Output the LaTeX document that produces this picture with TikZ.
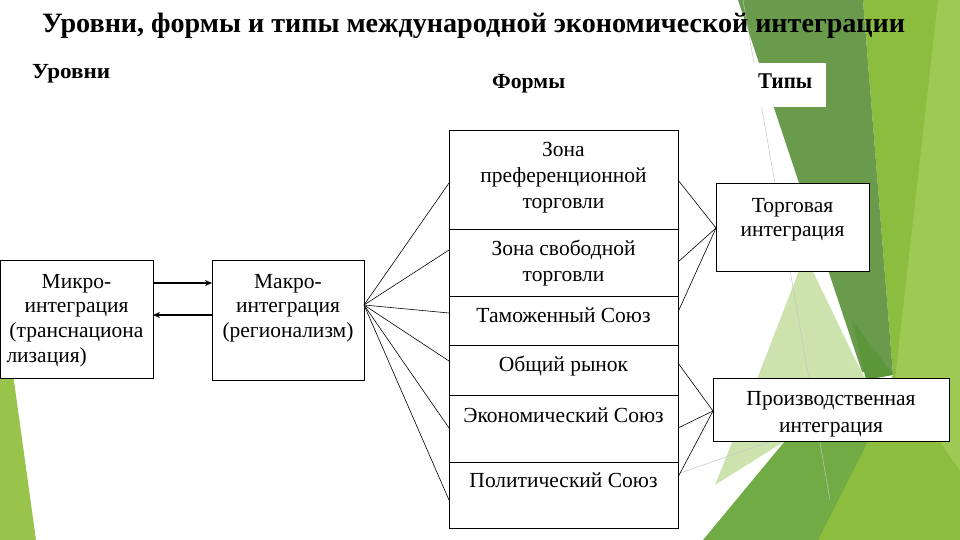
\documentclass[tikz,border=0pt]{standalone}
\usepackage{fontspec}
\setmainfont{Liberation Serif}
\usetikzlibrary{arrows.meta}
\definecolor{gDark}{HTML}{6A9A4B}
\definecolor{gYel}{HTML}{8CBD3E}
\definecolor{gLight}{HTML}{9FC955}
\definecolor{gPale}{HTML}{CDE3AE}
\definecolor{gMed}{HTML}{70AB46}
\definecolor{gDeep}{HTML}{5B963A}
\definecolor{gLeft}{HTML}{99C44B}
\definecolor{gLine}{HTML}{C4C4C4}
\begin{document}
\begin{tikzpicture}[x=1pt,y=-1pt,
  box/.style={draw=black,line width=0.9pt,fill=white,inner sep=0pt,anchor=north west},
  txt/.style={font=\fontsize{21.5}{26}\selectfont,align=center,inner sep=0pt,anchor=north},
  txtm/.style={font=\fontsize{21.5}{24.7}\selectfont,align=center,inner sep=0pt,anchor=north},
  hdr/.style={inner sep=0pt,anchor=base west},
  fan/.style={draw=black,line width=0.6pt},
  arr/.style={draw=black,line width=1.8pt,-{Stealth[length=7pt,width=6pt]}}
]
\useasboundingbox (0,0) rectangle (960,540);
% background facets
\fill[gLeft] (0,280) -- (36,540) -- (0,540) -- cycle;
\fill[gYel] (863,0) -- (960,0) -- (960,540) -- (815,540) -- (870,420) -- (893,375) -- cycle;
\fill[gLight] (938,0) -- (960,0) -- (960,470) -- (895,380) -- cycle;
\fill[gDark] (738,0) -- (863,0) -- (893,375) -- (862,372) -- cycle;
\fill[gDeep] (852,320) -- (893,375) -- (866,380) -- cycle;
\fill[gPale] (805,255) -- (858,365) -- (866,380) -- (870,420) -- (785,441) -- (715,485) -- (745,410) -- cycle;
\fill[gMed] (703,540) -- (818,540) -- (868,441) -- (785,441) -- cycle;
\draw[gLine,line width=0.5pt] (743,0) -- (830,500);
\draw[gLine,line width=0.5pt] (680,473) -- (775,440);
\fill[white] (753,63) rectangle (826,107);

% headers
\node[hdr] (title) at (42,33) {\resizebox{863pt}{\height}{\bfseries\fontsize{28}{32}\selectfont Уровни, формы и типы международной экономической интеграции}};
\node[hdr] (lev) at (32,79) {\resizebox{78pt}{\height}{\bfseries\fontsize{21.5}{25}\selectfont Уровни}};
\node[hdr] (frm) at (492,89) {\resizebox{73pt}{\height}{\bfseries\fontsize{21.5}{25}\selectfont Формы}};
\node[hdr] (typ) at (758,89) {\resizebox{54pt}{\height}{\bfseries\fontsize{22.5}{26}\selectfont Типы}};

% boxes
\node[box,minimum width=153pt,minimum height=118pt] (micro) at (0,260) {};
\node[box,minimum width=152pt,minimum height=120pt] (macro) at (212,260) {};
\node[box,minimum width=229pt,minimum height=99pt] (f1) at (449,130) {};
\node[box,minimum width=229pt,minimum height=67pt] (f2) at (449,229) {};
\node[box,minimum width=229pt,minimum height=49pt] (f3) at (449,296) {};
\node[box,minimum width=229pt,minimum height=50pt] (f4) at (449,345) {};
\node[box,minimum width=229pt,minimum height=67pt] (f5) at (449,395) {};
\node[box,minimum width=229pt,minimum height=66pt] (f6) at (449,462) {};
\node[box,minimum width=153pt,minimum height=88pt] (torg) at (716,183) {};
\node[box,minimum width=236pt,minimum height=63pt] (prod) at (713,378) {};

% texts
\node[txtm,text width=140pt] (tmicro) at (76.5,272) {\rule{0pt}{16pt}Микро-\\интеграция\\(транснациона\\\makebox[140pt][l]{лизация)}};
\node[txtm] (tmacro) at (288,272) {\rule{0pt}{16pt}Макро-\\интеграция\\(регионализм)};
\node[txt] (tf1) at (563.5,140) {\rule{0pt}{16pt}Зона\\преференционной\\торговли};
\node[txt] (tf2) at (563.5,239) {\rule{0pt}{16pt}Зона свободной\\торговли};
\node[txt] (tf3) at (563.5,306) {\rule{0pt}{16pt}Таможенный Союз};
\node[txt] (tf4) at (563.5,355) {\rule{0pt}{16pt}Общий рынок};
\node[txt] (tf5) at (563.5,406) {\rule{0pt}{16pt}Экономический Союз};
\node[txt] (tf6) at (563.5,471) {\rule{0pt}{16pt}Политический Союз};
\node[txt,font=\fontsize{21.5}{24.5}\selectfont] (ttorg) at (792.5,196) {\rule{0pt}{16pt}Торговая\\интеграция};
\node[txt,font=\fontsize{21.5}{27}\selectfont] (tprod) at (831,389) {\rule{0pt}{16pt}Производственная\\интеграция};

% connector points
\coordinate (mA) at (153,283);
\coordinate (mB) at (212,283);
\coordinate (mC) at (212,315);
\coordinate (mD) at (153,315);
\coordinate (mF) at (364,305);
\coordinate (l1) at (449,183);
\coordinate (l2) at (449,250);
\coordinate (l3) at (449,313);
\coordinate (l4) at (449,361);
\coordinate (l5) at (449,428);
\coordinate (l6) at (449,500);
\coordinate (r1) at (678,180);
\coordinate (r2) at (678,262);
\coordinate (r3) at (678,312);
\coordinate (r4) at (678,363);
\coordinate (r5) at (678,428);
\coordinate (r6) at (678,477);
\coordinate (tP) at (716,228);
\coordinate (pP) at (713,411);

% arrows between levels
\draw[arr] (mA) -- (mB);
\draw[arr] (mC) -- (mD);
% fan from macro to forms
\foreach \i in {1,...,6} \draw[fan] (mF) -- (l\i);
% fans from forms to types
\foreach \i in {1,2,3} \draw[fan] (r\i) -- (tP);
\foreach \i in {4,5,6} \draw[fan] (r\i) -- (pP);
\end{tikzpicture}
\end{document}
